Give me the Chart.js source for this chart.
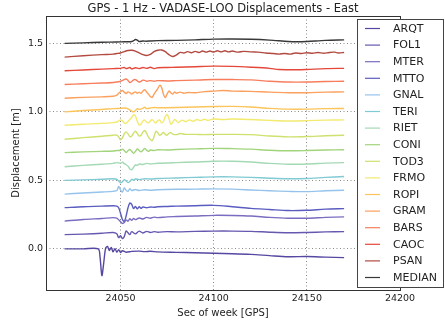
<!DOCTYPE html>
<html>
<head>
<meta charset="utf-8">
<script src="https://cdn.jsdelivr.net/npm/chart.js"></script>
<style>
  html, body { margin: 0; padding: 0; background: #fff; }
  #wrap { width: 445px; height: 326px; }
</style>
</head>
<body>
<div id="wrap"><canvas id="disp" width="445" height="326"></canvas></div>
<script>
// station names, bottom to top, and the offset each one is stacked at
const stations = ['ARQT', 'FOL1', 'MTER', 'MTTO', 'GNAL', 'TERI', 'RIET', 'CONI',
                  'TOD3', 'FRMO', 'ROPI', 'GRAM', 'BARS', 'CAOC', 'PSAN', 'MEDIAN'];
const offsets = [0.0, 0.1, 0.2, 0.3, 0.4, 0.5, 0.6, 0.7, 0.8, 0.9, 1.0, 1.1, 1.2, 1.3, 1.4, 1.5];

// east displacement per station: [sec of week, metres] (before stacking)
const arqt = [[24020, 0.000], [24030, 0.000], [24038, 0.000], [24039, -0.060], [24040, -0.195],
  [24041, -0.100], [24042, 0.005], [24043, 0.018], [24044, -0.012], [24045, 0.010], [24046, -0.022],
  [24047, 0.002], [24048, -0.024], [24049, -0.006], [24050, -0.026], [24051, -0.014], [24053, -0.024],
  [24056, -0.018], [24060, -0.016], [24063, -0.020], [24066, -0.017], [24070, -0.022], [24080, -0.025],
  [24090, -0.028], [24100, -0.032], [24110, -0.035], [24120, -0.040], [24130, -0.049], [24140, -0.057],
  [24150, -0.056], [24160, -0.060], [24170, -0.064]];
const fol1 = [[24020, 0.004], [24030, 0.008], [24040, 0.014], [24046, 0.020], [24048, 0.010],
  [24049, -0.018], [24050, -0.004], [24051, -0.024], [24052, -0.010], [24053, 0.030], [24054, 0.018],
  [24055, 0.004], [24056, 0.026], [24058, 0.010], [24060, 0.030], [24062, 0.016], [24064, 0.028],
  [24066, 0.020], [24068, 0.026], [24070, 0.022], [24075, 0.026], [24080, 0.024], [24090, 0.028],
  [24100, 0.030], [24110, 0.030], [24120, 0.028], [24130, 0.022], [24140, 0.018], [24150, 0.020],
  [24160, 0.024], [24170, 0.026]];
const mter = [[24020, 0.003], [24030, 0.015], [24040, 0.022], [24046, 0.028], [24048, 0.024],
  [24049, 0.012], [24050, -0.002], [24051, -0.014], [24052, -0.008], [24053, 0.012], [24054, 0.002],
  [24055, 0.020], [24056, 0.008], [24057, 0.022], [24058, 0.014], [24060, 0.026], [24062, 0.018],
  [24064, 0.030], [24066, 0.024], [24068, 0.032], [24070, 0.028], [24075, 0.034], [24080, 0.036],
  [24090, 0.040], [24100, 0.045], [24110, 0.044], [24120, 0.040], [24130, 0.030], [24140, 0.024],
  [24150, 0.024], [24160, 0.030], [24170, 0.034]];
const mtto = [[24020, 0.001], [24030, 0.008], [24040, 0.012], [24046, 0.015], [24048, 0.012],
  [24049, 0.000], [24050, -0.040], [24051, -0.085], [24052, -0.100], [24053, -0.060], [24054, 0.000],
  [24055, 0.035], [24056, 0.025], [24057, -0.005], [24058, 0.010], [24059, -0.008], [24060, 0.008],
  [24061, -0.004], [24062, 0.006], [24064, 0.000], [24066, 0.006], [24068, 0.004], [24070, 0.008],
  [24075, 0.010], [24080, 0.012], [24090, 0.015], [24100, 0.018], [24110, 0.008], [24120, -0.004],
  [24130, -0.012], [24140, -0.020], [24150, -0.018], [24160, -0.010], [24170, -0.006]];
const gnal = [[24020, 0.000], [24030, 0.008], [24040, 0.015], [24046, 0.020], [24048, 0.026],
  [24049, 0.055], [24050, 0.030], [24051, 0.015], [24052, 0.045], [24053, 0.028], [24054, 0.020],
  [24055, 0.040], [24056, 0.026], [24058, 0.034], [24060, 0.026], [24063, 0.032], [24066, 0.028],
  [24070, 0.032], [24080, 0.035], [24090, 0.036], [24100, 0.038], [24110, 0.036], [24120, 0.030],
  [24130, 0.024], [24140, 0.020], [24150, 0.018], [24160, 0.024], [24170, 0.028]];
const teri = [[24020, 0.000], [24030, 0.004], [24040, 0.008], [24046, 0.012], [24048, 0.008],
  [24050, -0.018], [24051, -0.010], [24052, 0.006], [24053, -0.004], [24054, -0.016], [24055, -0.008],
  [24056, 0.008], [24057, 0.002], [24058, 0.010], [24060, 0.006], [24063, 0.012], [24066, 0.010],
  [24070, 0.014], [24080, 0.018], [24090, 0.022], [24100, 0.026], [24110, 0.026], [24120, 0.022],
  [24130, 0.016], [24140, 0.012], [24150, 0.014], [24160, 0.022], [24170, 0.028]];
const riet = [[24020, 0.000], [24030, 0.010], [24040, 0.018], [24046, 0.024], [24048, 0.030],
  [24050, 0.026], [24051, 0.032], [24052, 0.022], [24053, 0.014], [24054, 0.004], [24055, -0.016],
  [24056, -0.022], [24057, -0.004], [24058, 0.014], [24059, 0.010], [24060, 0.020], [24062, 0.016],
  [24064, 0.024], [24066, 0.020], [24070, 0.025], [24080, 0.030], [24090, 0.034], [24100, 0.040],
  [24110, 0.040], [24120, 0.034], [24130, 0.024], [24140, 0.018], [24150, 0.020], [24160, 0.026],
  [24170, 0.030]];
const coni = [[24020, 0.003], [24030, 0.008], [24040, 0.012], [24046, 0.015], [24048, 0.018],
  [24050, 0.020], [24051, 0.028], [24052, 0.018], [24053, 0.004], [24054, 0.016], [24055, 0.026],
  [24056, 0.012], [24057, -0.002], [24058, 0.012], [24059, 0.030], [24060, 0.018], [24061, 0.008],
  [24062, 0.020], [24063, 0.034], [24064, 0.020], [24065, 0.012], [24066, 0.022], [24068, 0.018],
  [24070, 0.024], [24075, 0.022], [24080, 0.026], [24090, 0.030], [24100, 0.034], [24110, 0.032],
  [24120, 0.028], [24130, 0.020], [24140, 0.016], [24150, 0.018], [24160, 0.022], [24170, 0.024]];
const tod3 = [[24020, 0.000], [24030, 0.012], [24040, 0.022], [24046, 0.030], [24048, 0.030],
  [24049, 0.018], [24050, -0.004], [24051, 0.010], [24052, 0.040], [24053, 0.054], [24054, 0.040],
  [24055, 0.020], [24056, 0.024], [24057, 0.045], [24058, 0.059], [24059, 0.042], [24060, 0.024],
  [24061, 0.030], [24062, 0.052], [24063, 0.064], [24064, 0.044], [24065, 0.015], [24066, 0.000],
  [24067, -0.011], [24068, 0.020], [24069, 0.059], [24070, 0.048], [24071, 0.028], [24072, 0.038],
  [24073, 0.050], [24074, 0.036], [24075, 0.030], [24076, 0.044], [24077, 0.049], [24078, 0.038],
  [24080, 0.034], [24082, 0.042], [24085, 0.036], [24090, 0.036], [24095, 0.034], [24100, 0.036],
  [24110, 0.036], [24120, 0.034], [24130, 0.024], [24140, 0.018], [24150, 0.020], [24160, 0.026],
  [24170, 0.030]];
const frmo = [[24020, 0.003], [24030, 0.010], [24040, 0.016], [24046, 0.022], [24048, 0.026],
  [24049, 0.034], [24050, 0.042], [24051, 0.036], [24052, 0.020], [24053, 0.016], [24054, 0.030],
  [24055, 0.044], [24056, 0.060], [24057, 0.078], [24058, 0.070], [24059, 0.030], [24060, 0.004],
  [24061, 0.012], [24062, 0.034], [24063, 0.040], [24064, 0.026], [24065, 0.020], [24066, 0.034],
  [24067, 0.044], [24068, 0.030], [24069, 0.020], [24070, 0.036], [24071, 0.040], [24072, 0.020],
  [24073, 0.030], [24074, 0.066], [24075, 0.082], [24076, 0.050], [24077, 0.010], [24078, 0.024],
  [24079, 0.044], [24080, 0.036], [24081, 0.022], [24083, 0.040], [24085, 0.028], [24087, 0.042],
  [24089, 0.032], [24091, 0.044], [24093, 0.036], [24095, 0.046], [24097, 0.038], [24100, 0.048],
  [24105, 0.044], [24110, 0.048], [24120, 0.044], [24130, 0.038], [24140, 0.034], [24150, 0.036],
  [24160, 0.040], [24170, 0.042]];
const ropi = [[24020, 0.000], [24030, 0.010], [24040, 0.018], [24046, 0.024], [24050, 0.026],
  [24052, 0.028], [24054, 0.022], [24056, 0.006], [24057, 0.000], [24058, 0.010], [24059, 0.024],
  [24060, 0.018], [24062, 0.026], [24063, 0.034], [24064, 0.024], [24066, 0.028], [24068, 0.032],
  [24070, 0.030], [24080, 0.032], [24090, 0.036], [24100, 0.039], [24110, 0.040], [24120, 0.036],
  [24130, 0.026], [24140, 0.020], [24150, 0.020], [24160, 0.024], [24170, 0.025]];
const gram = [[24020, 0.000], [24030, 0.006], [24040, 0.010], [24046, 0.014], [24048, 0.022],
  [24049, 0.036], [24050, 0.048], [24051, 0.056], [24052, 0.044], [24053, 0.034], [24054, 0.046],
  [24055, 0.040], [24056, 0.030], [24057, 0.040], [24058, 0.046], [24059, 0.036], [24060, 0.044],
  [24061, 0.036], [24062, 0.052], [24063, 0.062], [24064, 0.045], [24065, 0.030], [24066, 0.012],
  [24067, 0.006], [24068, 0.030], [24069, 0.050], [24070, 0.070], [24071, 0.094], [24072, 0.080],
  [24073, 0.030], [24074, 0.004], [24075, 0.030], [24076, 0.052], [24077, 0.040], [24078, 0.030],
  [24079, 0.046], [24080, 0.036], [24082, 0.044], [24084, 0.036], [24086, 0.042], [24090, 0.040],
  [24095, 0.048], [24100, 0.052], [24105, 0.056], [24110, 0.052], [24120, 0.050], [24130, 0.044],
  [24140, 0.040], [24150, 0.040], [24160, 0.044], [24170, 0.046]];
const bars = [[24020, 0.000], [24030, 0.006], [24040, 0.011], [24046, 0.015], [24048, 0.018],
  [24050, 0.024], [24052, 0.036], [24053, 0.040], [24054, 0.030], [24055, 0.014], [24056, 0.022],
  [24057, 0.034], [24058, 0.036], [24059, 0.026], [24060, 0.018], [24061, 0.022], [24062, 0.032],
  [24063, 0.030], [24064, 0.024], [24066, 0.028], [24068, 0.024], [24070, 0.028], [24075, 0.026],
  [24080, 0.028], [24090, 0.032], [24100, 0.036], [24110, 0.036], [24120, 0.034], [24130, 0.024],
  [24140, 0.018], [24150, 0.018], [24160, 0.022], [24170, 0.024]];
const caoc = [[24020, 0.000], [24030, 0.006], [24040, 0.012], [24046, 0.016], [24050, 0.018],
  [24052, 0.024], [24053, 0.016], [24055, 0.024], [24056, 0.014], [24058, 0.022], [24060, 0.016],
  [24062, 0.024], [24064, 0.018], [24066, 0.026], [24068, 0.016], [24070, 0.022], [24075, 0.024],
  [24080, 0.026], [24090, 0.030], [24100, 0.034], [24110, 0.032], [24120, 0.026], [24130, 0.018],
  [24135, 0.010], [24145, 0.008], [24150, 0.010], [24160, 0.016], [24170, 0.018]];
const psan = [[24020, 0.000], [24030, 0.010], [24040, 0.018], [24046, 0.022], [24048, 0.026],
  [24050, 0.030], [24052, 0.040], [24054, 0.048], [24056, 0.050], [24058, 0.044], [24060, 0.030],
  [24062, 0.018], [24064, 0.012], [24066, 0.020], [24068, 0.040], [24070, 0.050], [24072, 0.052],
  [24074, 0.040], [24076, 0.018], [24078, 0.004], [24080, 0.016], [24082, 0.034], [24084, 0.030],
  [24086, 0.040], [24088, 0.032], [24090, 0.042], [24092, 0.034], [24094, 0.044], [24096, 0.036],
  [24098, 0.044], [24100, 0.037], [24102, 0.046], [24104, 0.038], [24106, 0.046], [24108, 0.038],
  [24110, 0.044], [24113, 0.036], [24116, 0.042], [24120, 0.038], [24124, 0.036], [24128, 0.030],
  [24132, 0.026], [24135, 0.022], [24138, 0.026], [24141, 0.022], [24144, 0.030], [24147, 0.026],
  [24150, 0.032], [24153, 0.028], [24156, 0.034], [24159, 0.028], [24162, 0.034], [24165, 0.036],
  [24167, 0.030], [24170, 0.034]];
const median = [[24020, 0.000], [24030, 0.004], [24040, 0.008], [24048, 0.010], [24052, 0.012],
  [24054, 0.012], [24056, 0.014], [24057, 0.020], [24058, 0.028], [24059, 0.024], [24060, 0.014],
  [24062, 0.018], [24064, 0.016], [24066, 0.018], [24070, 0.020], [24080, 0.022], [24090, 0.026],
  [24100, 0.031], [24110, 0.032], [24120, 0.030], [24130, 0.024], [24140, 0.014], [24145, 0.012],
  [24150, 0.014], [24160, 0.022], [24170, 0.026]];

const series = [arqt, fol1, mter, mtto, gnal, teri, riet, coni,
                tod3, frmo, ropi, gram, bars, caoc, psan, median];

// axis ticks
const xTicks = [24050, 24100, 24150, 24200];
const yTicks = [0.0, 0.5, 1.0, 1.5];

const colors = ['#5548a2', '#6757b0', '#7a6cc0', '#5a5cc0', '#95c3ec', '#80cad3', '#a3d9b4', '#a2d47c',
                '#cde26e', '#f3ea70', '#fcc45a', '#fca05e', '#f77e5c', '#e4483a', '#b24a40', '#383838'];

const FONT = '"DejaVu Sans", sans-serif';
const TITLE = 'GPS - 1 Hz - VADASE-LOO Displacements - East';

const datasets = stations.map((name, i) => ({
    label: name,
    data: series[i].map(p => ({x: p[0], y: p[1] + offsets[i]})),
    borderColor: colors[i],
    borderWidth: 1.4,
    pointRadius: 0,
    tension: 0.3,
    fill: false
}));

// title over the axes, axes frame and the legend box, drawn like matplotlib does
const frameAndLegend = {
    id: 'frameAndLegend',
    afterDraw(chart) {
        const ctx = chart.ctx;
        const a = chart.chartArea;
        ctx.save();
        ctx.fillStyle = '#222';
        ctx.font = '11.5px ' + FONT;
        ctx.textAlign = 'center';
        ctx.textBaseline = 'middle';
        ctx.fillText(TITLE, (a.left + a.right) / 2, 9.5);

        ctx.strokeStyle = '#333';
        ctx.lineWidth = 1;
        ctx.strokeRect(Math.round(a.left) + 0.5, Math.round(a.top) + 0.5,
                       Math.round(a.right - a.left), Math.round(a.bottom - a.top));

        // legend
        ctx.fillStyle = '#fff';
        ctx.fillRect(357, 19, 86, 268);
        ctx.strokeStyle = '#444';
        ctx.strokeRect(357.5, 19.5, 86, 268);
        ctx.font = '11px ' + FONT;
        ctx.textAlign = 'left';
        chart.data.datasets.forEach((ds, i) => {
            const y = 28.5 + i * 16.6;
            ctx.strokeStyle = ds.borderColor;
            ctx.lineWidth = 1.2;
            ctx.beginPath();
            ctx.moveTo(365, y);
            ctx.lineTo(380, y);
            ctx.stroke();
            ctx.fillStyle = '#222';
            ctx.fillText(ds.label, 393, y + 0.5);
        });
        ctx.restore();
    }
};

new Chart(document.getElementById('disp'), {
    type: 'line',
    data: {datasets: datasets},
    plugins: [frameAndLegend],
    options: {
        responsive: false,
        animation: false,
        devicePixelRatio: 1,
        layout: {padding: {left: 0, right: 45, top: 16, bottom: 0}},
        plugins: {
            legend: {display: false},
            tooltip: {enabled: false},
            title: {display: false}
        },
        scales: {
            x: {
                type: 'linear',
                min: 24010,
                max: 24200,
                afterFit: s => { s.height = 36; },
                afterBuildTicks: s => { s.ticks = xTicks.map(v => ({value: v})); },
                ticks: {
                    color: '#222',
                    font: {family: FONT, size: 9.5},
                    padding: 3,
                    maxRotation: 0,
                    callback: v => String(v)
                },
                grid: {color: '#8a8a8a', lineWidth: 1, drawTicks: false},
                border: {display: false, dash: [1, 2.5]},
                title: {
                    display: true,
                    text: 'Sec of week [GPS]',
                    color: '#222',
                    font: {family: FONT, size: 10},
                    padding: {top: 0, bottom: 7}
                }
            },
            y: {
                type: 'linear',
                min: -0.3,
                max: 1.7,
                afterFit: s => { s.width = 46; },
                afterBuildTicks: s => { s.ticks = yTicks.map(v => ({value: v})); },
                ticks: {
                    color: '#222',
                    font: {family: FONT, size: 9.5},
                    padding: 3,
                    callback: v => v.toFixed(1)
                },
                grid: {color: '#8a8a8a', lineWidth: 1, drawTicks: false},
                border: {display: false, dash: [1, 2.5]},
                title: {
                    display: true,
                    text: 'Displacement [m]',
                    color: '#222',
                    font: {family: FONT, size: 10},
                    padding: {top: 10, bottom: 0}
                }
            }
        }
    }
});
</script>
</body>
</html>
